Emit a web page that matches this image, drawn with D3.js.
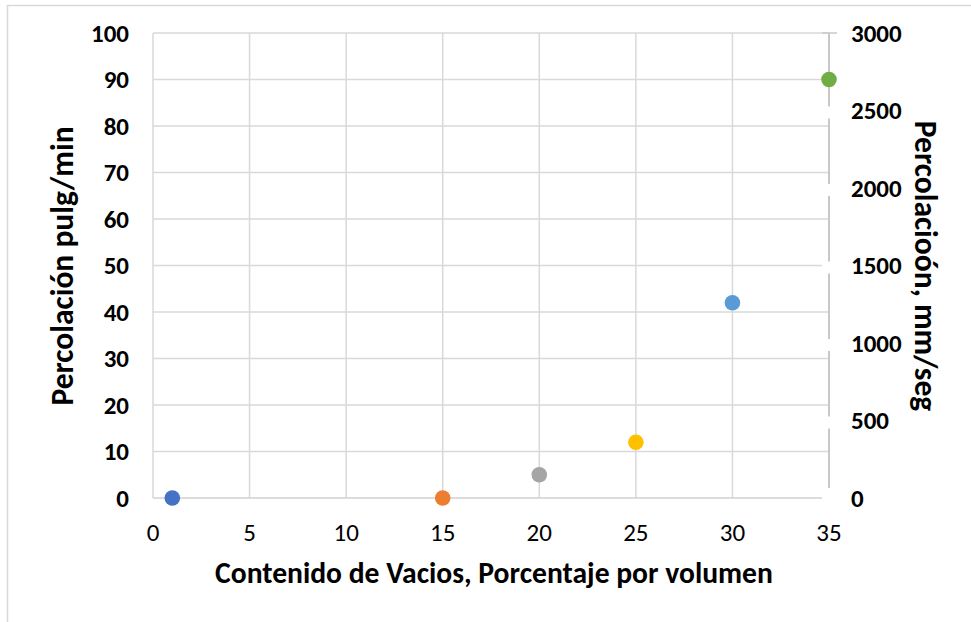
<!DOCTYPE html>
<html>
<head>
<meta charset="utf-8">
<script src="https://cdn.jsdelivr.net/npm/d3@7"></script>
<style>
  html, body { margin: 0; padding: 0; background: #fff; }
  svg { display: block; }
  text { font-family: Carlito, Calibri, "Liberation Sans", "DejaVu Sans", sans-serif; }
</style>
</head>
<body>
<svg id="chart" width="971" height="622"></svg>
<script>
// Void content (%) against percolation rate
const voidContent = [1, 15, 20, 25, 30, 35];
const percolation = [0, 0, 5, 12, 42, 90];
const pointColors = ["#4472C4", "#ED7D31", "#A5A5A5", "#FFC000", "#5B9BD5", "#70AD47"];

const xTicks = [0, 5, 10, 15, 20, 25, 30, 35];
const yTicks = [0, 10, 20, 30, 40, 50, 60, 70, 80, 90, 100];
const y2Ticks = [0, 500, 1000, 1500, 2000, 2500, 3000];

const xTitle = "Contenido de Vacios, Porcentaje por volumen";
const yTitle = "Percolación pulg/min";
const y2Title = "Percolacioón, mm/seg";

const svg = d3.select("#chart");
const plotLeft = 153, plotRight = 829, plotTop = 33, plotBottom = 498;

const x = d3.scaleLinear().domain([0, 35]).range([plotLeft, plotRight]);
const y = d3.scaleLinear().domain([0, 100]).range([plotBottom, plotTop]);
const y2 = d3.scaleLinear().domain([0, 3000]).range([plotBottom, plotTop]);

// chart frame
svg.append("path")
  .attr("d", `M7.5,622 V5.5 H971`)
  .attr("fill", "none").attr("stroke", "#d9d9d9").attr("stroke-width", 1.5);

const grid = svg.append("g");
// horizontal gridlines
grid.selectAll("line.h").data(yTicks.filter(d => d > 0)).join("line")
  .attr("x1", plotLeft).attr("x2", plotRight)
  .attr("y1", d => y(d)).attr("y2", d => y(d))
  .attr("stroke", "#d9d9d9").attr("stroke-width", 1.5);
// vertical gridlines
grid.selectAll("line.v").data(xTicks.filter(d => d > 0 && d < 35)).join("line")
  .attr("x1", d => x(d)).attr("x2", d => x(d))
  .attr("y1", plotTop).attr("y2", plotBottom)
  .attr("stroke", "#d9d9d9").attr("stroke-width", 1.5);

// left and bottom axis lines
svg.append("line").attr("x1", plotLeft).attr("x2", plotLeft).attr("y1", plotTop).attr("y2", plotBottom)
  .attr("stroke", "#d9d9d9").attr("stroke-width", 1.5);
svg.append("line").attr("x1", plotLeft).attr("x2", plotRight - 7).attr("y1", plotBottom).attr("y2", plotBottom)
  .attr("stroke", "#d0d0d0").attr("stroke-width", 1.5);

// secondary axis line with its top tick
svg.append("line").attr("x1", plotRight).attr("x2", plotRight).attr("y1", plotTop).attr("y2", plotBottom - 10)
  .attr("stroke", "#c8c8c8").attr("stroke-width", 2);
svg.append("line").attr("x1", plotRight - 7).attr("x2", plotRight + 8).attr("y1", y2(3000)).attr("y2", y2(3000))
  .attr("stroke", "#c8c8c8").attr("stroke-width", 1.5);
// label backgrounds that break the secondary axis line
svg.selectAll("rect.gap").data(y2Ticks.filter(d => d > 0 && d < 3000)).join("rect")
  .attr("x", plotRight - 7).attr("width", 16)
  .attr("y", d => y2(d) - 4).attr("height", 12)
  .attr("fill", "#fff");
svg.append("rect").attr("x", plotRight - 7).attr("width", 16)
  .attr("y", plotBottom - 10).attr("height", 12).attr("fill", "#fff");

// tick labels
svg.selectAll("text.yl").data(yTicks).join("text")
  .attr("x", 129).attr("y", d => y(d)).attr("dy", "0.35em")
  .attr("text-anchor", "end").attr("font-size", 25).attr("font-weight", "bold")
  .attr("fill", "#000").text(d => d);

svg.selectAll("text.y2l").data(y2Ticks).join("text")
  .attr("x", 851).attr("y", d => y2(d)).attr("dy", "0.35em")
  .attr("text-anchor", "start").attr("font-size", 25).attr("font-weight", "bold")
  .attr("fill", "#000").text(d => d);

svg.selectAll("text.xl").data(xTicks).join("text")
  .attr("x", d => x(d)).attr("y", 541)
  .attr("text-anchor", "middle").attr("font-size", 25)
  .attr("fill", "#000").text(d => d);

// axis titles
svg.append("text").attr("x", 494).attr("y", 583)
  .attr("text-anchor", "middle").attr("font-size", 29.6).attr("font-weight", "bold")
  .text(xTitle);
svg.append("text").attr("transform", "translate(73,266) rotate(-90)")
  .attr("text-anchor", "middle").attr("font-size", 31.5).attr("font-weight", "bold")
  .text(yTitle);
svg.append("text").attr("transform", "translate(915,266) rotate(90)")
  .attr("text-anchor", "middle").attr("font-size", 31.5).attr("font-weight", "bold")
  .text(y2Title);

// data points
svg.selectAll("circle.pt").data(voidContent).join("circle")
  .attr("cx", d => x(d)).attr("cy", (d, i) => y(percolation[i]))
  .attr("r", 7.8).attr("fill", (d, i) => pointColors[i]);
</script>
</body>
</html>
